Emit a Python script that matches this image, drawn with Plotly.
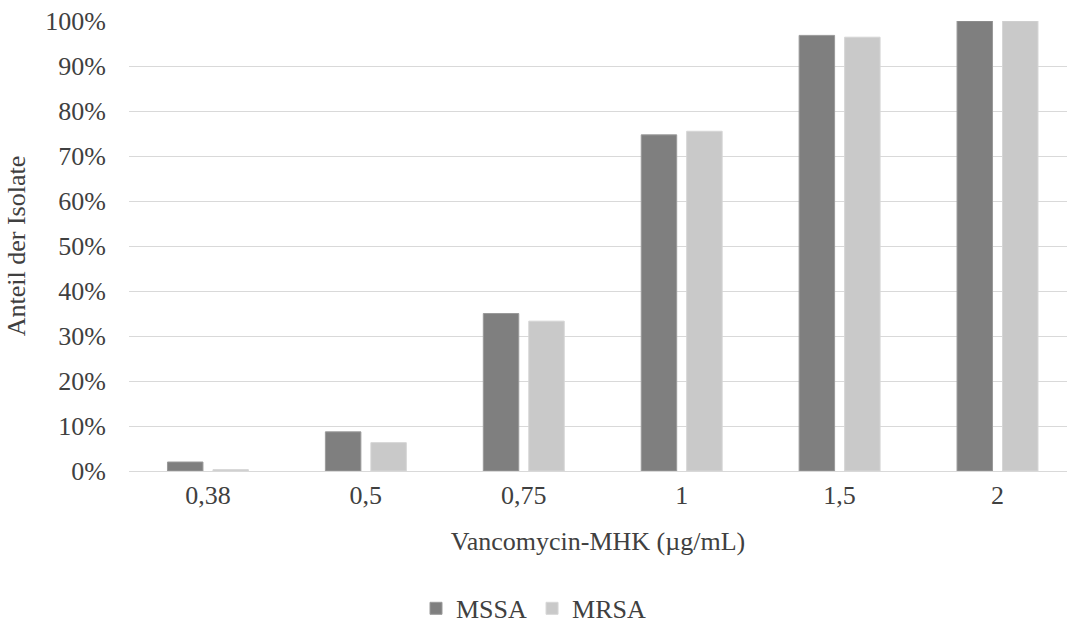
import plotly.graph_objects as go

# Vancomycin MIC categories and cumulative share of isolates
mic_labels = ["0,38", "0,5", "0,75", "1", "1,5", "2"]
mssa_share = [0.020, 0.087, 0.350, 0.747, 0.968, 1.000]
mrsa_share = [0.003, 0.063, 0.333, 0.755, 0.964, 1.000]
y_ticks = [i / 10 for i in range(11)]

font_family = "'Liberation Serif', Tinos, 'Nimbus Roman', 'DejaVu Serif'"
text_color = "#404040"

fig = go.Figure()
fig.add_trace(go.Bar(
    name="MSSA", x=mic_labels, y=mssa_share,
    marker=dict(color="#7f7f7f", line=dict(color="#9a9a9a", width=1)),
))
fig.add_trace(go.Bar(
    name="MRSA", x=mic_labels, y=mrsa_share,
    marker=dict(color="#c9c9c9", line=dict(color="#d6d6d6", width=1)),
))

fig.update_layout(
    width=1067, height=624,
    margin=dict(l=129, r=0, t=21, b=153, autoexpand=False),
    paper_bgcolor="white", plot_bgcolor="white",
    font=dict(family=font_family, size=26, color=text_color),
    barmode="group", bargap=0.424, bargroupgap=0.22,
    showlegend=True,
    legend=dict(
        orientation="h", xref="container", yref="container",
        x=0.5, xanchor="center", y=0.025, yanchor="middle",
        font=dict(family=font_family, size=26, color=text_color),
        itemwidth=30, tracegroupgap=0,
    ),
    xaxis=dict(
        type="category", range=[-0.5, 5.44],
        showgrid=False, showline=False, zeroline=False, ticks="",
        ticklabelstandoff=6,
        tickfont=dict(family=font_family, size=26, color=text_color),
        title=dict(text="Vancomycin-MHK (µg/mL)", standoff=22,
                   font=dict(family=font_family, size=26, color=text_color)),
        automargin=False,
    ),
    yaxis=dict(
        range=[0, 1], tickvals=y_ticks, tickformat=".0%",
        showgrid=True, gridcolor="#d9d9d9", gridwidth=1.3,
        zeroline=True, zerolinecolor="#d9d9d9", zerolinewidth=1.3,
        showline=False, ticks="", ticklabelstandoff=22,
        tickfont=dict(family=font_family, size=26, color=text_color),
        title=dict(text="Anteil der Isolate", standoff=12,
                   font=dict(family=font_family, size=26, color=text_color)),
        automargin=False,
    ),
)

fig.write_html("out.html")
